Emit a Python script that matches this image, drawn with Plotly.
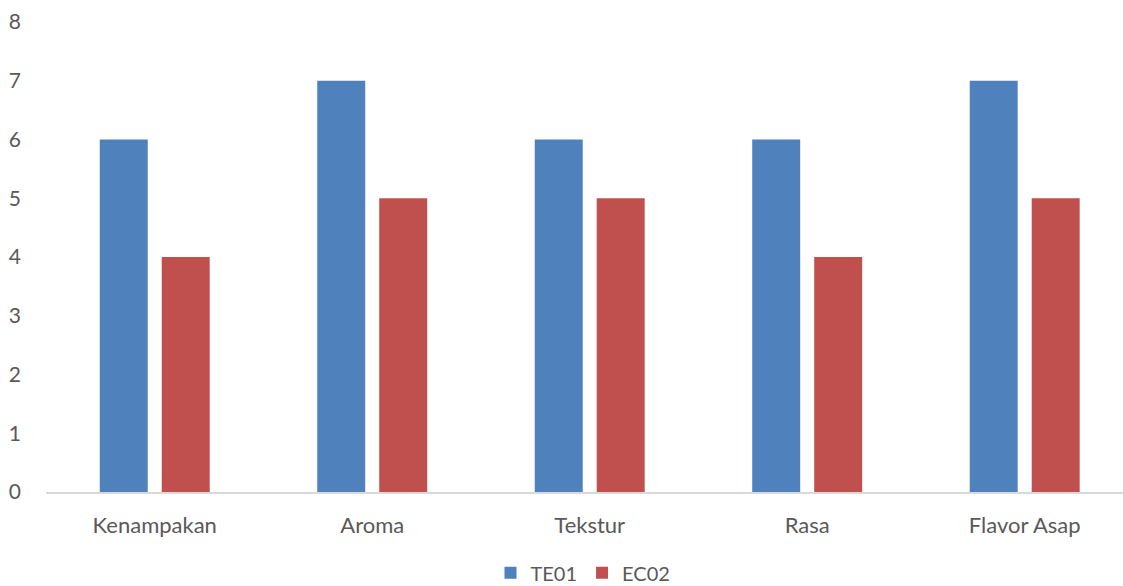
import plotly.graph_objects as go

categories = ["Kenampakan", "Aroma", "Tekstur", "Rasa", "Flavor Asap"]
te01 = [6, 7, 6, 6, 7]
ec02 = [4, 5, 5, 4, 5]
y_ticks = [0, 1, 2, 3, 4, 5, 6, 7, 8]

font_main = dict(family="Lato, Open Sans, sans-serif", size=21, color="#595959")
font_x = dict(family="Lato, Open Sans, sans-serif", size=22, color="#595959")

fig = go.Figure()
fig.add_trace(go.Bar(name="TE01", x=categories, y=te01, marker=dict(color="#4F81BD", line=dict(width=0))))
fig.add_trace(go.Bar(name="EC02", x=categories, y=ec02, marker=dict(color="#C0504D", line=dict(width=0))))

fig.update_layout(
    width=1123, height=586,
    margin=dict(l=46, r=0, t=22, b=94, autoexpand=False),
    paper_bgcolor="white", plot_bgcolor="white",
    barmode="group", bargap=0.43, bargroupgap=0.226,
    font=font_main,
    showlegend=True,
    legend=dict(orientation="h", x=0.4986, xref="paper", xanchor="center", y=-0.172, yanchor="middle",
                font=dict(family="Lato, Open Sans, sans-serif", size=20, color="#595959"),
                itemwidth=30, traceorder="normal", tracegroupgap=0),
)
fig.update_xaxes(range=[-0.5, 4.452], showgrid=False, showline=True, linecolor="#d9d9d9", linewidth=1.5,
                 ticks="", ticklabelstandoff=13, tickfont=font_x)
fig.update_yaxes(range=[0, 8], tickvals=y_ticks, showgrid=False, showline=False, zeroline=False,
                 ticks="", ticklabelstandoff=24, tickfont=font_main)

fig.write_html("out.html")
